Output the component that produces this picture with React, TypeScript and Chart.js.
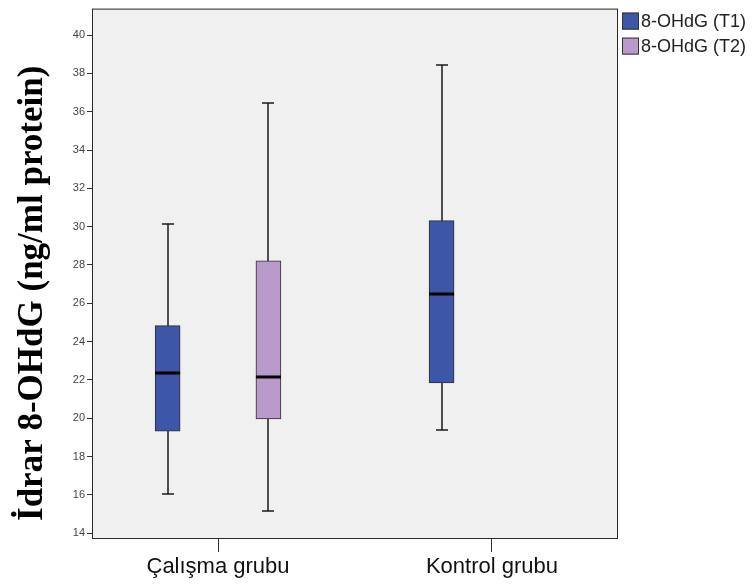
import { useEffect, useRef } from 'react';
import { Chart, registerables } from 'chart.js';

Chart.register(...registerables);

// Groups on the horizontal axis and the two measurement series
const groups = ['Çalışma grubu', 'Kontrol grubu'];
const seriesNames = ['8-OHdG (T1)', '8-OHdG (T2)'];
const seriesColors = ['#3d56a8', '#b99acb'];

// Five-number summaries per group (null = no data for that group)
const t1Min = [16.04, 19.38];
const t1Q1 = [19.33, 21.85];
const t1Median = [22.34, 26.5];
const t1Q3 = [24.83, 30.31];
const t1Max = [30.14, 38.44];

const t2Min = [15.15, null];
const t2Q1 = [19.97, null];
const t2Median = [22.17, null];
const t2Q3 = [28.22, null];
const t2Max = [36.46, null];

const yTicks = [14, 16, 18, 20, 22, 24, 26, 28, 30, 32, 34, 36, 38, 40];
const yMin = 13.75;
const yMax = 41.38;

const yTitle = 'İdrar 8-OHdG (ng/ml protein)';

// Layout / style constants
const seriesOffset = [-0.184, 0.184];
const boxWidthPx = 25;
const capWidthPx = 12;
const plotBg = '#f0f0f0';
const frameColor = '#2b2b2b';

type Summary = {
  name: string;
  color: string;
  min: (number | null)[];
  q1: (number | null)[];
  med: (number | null)[];
  q3: (number | null)[];
  max: (number | null)[];
};

const series: Summary[] = [
  { name: seriesNames[0], color: seriesColors[0], min: t1Min, q1: t1Q1, med: t1Median, q3: t1Q3, max: t1Max },
  { name: seriesNames[1], color: seriesColors[1], min: t2Min, q1: t2Q1, med: t2Median, q3: t2Q3, max: t2Max },
];

const boxPlotPlugin = {
  id: 'boxPlotParts',
  beforeDraw(chart: any) {
    const { ctx, chartArea: a } = chart;
    ctx.save();
    ctx.fillStyle = plotBg;
    ctx.fillRect(a.left, a.top, a.right - a.left, a.bottom - a.top);
    ctx.restore();
  },
  beforeDatasetsDraw(chart: any) {
    const { ctx, scales } = chart;
    const xs = scales.x;
    const ys = scales.y;
    ctx.save();
    ctx.strokeStyle = '#1a1a1a';
    ctx.lineWidth = 1.5;
    series.forEach((s, si) => {
      groups.forEach((_, gi) => {
        const lo = s.min[gi];
        const hi = s.max[gi];
        if (lo == null || hi == null) return;
        const x = Math.round(xs.getPixelForValue(gi + 1 + seriesOffset[si]));
        const yLo = Math.round(ys.getPixelForValue(lo));
        const yHi = Math.round(ys.getPixelForValue(hi));
        ctx.beginPath();
        ctx.moveTo(x, yHi);
        ctx.lineTo(x, yLo);
        ctx.moveTo(x - capWidthPx / 2, yHi);
        ctx.lineTo(x + capWidthPx / 2, yHi);
        ctx.moveTo(x - capWidthPx / 2, yLo);
        ctx.lineTo(x + capWidthPx / 2, yLo);
        ctx.stroke();
      });
    });
    ctx.restore();
  },
  afterDatasetsDraw(chart: any) {
    const { ctx, scales, chartArea: a } = chart;
    const xs = scales.x;
    const ys = scales.y;
    ctx.save();
    ctx.strokeStyle = '#000';
    ctx.lineWidth = 3;
    series.forEach((s, si) => {
      groups.forEach((_, gi) => {
        const m = s.med[gi];
        if (m == null) return;
        const x = xs.getPixelForValue(gi + 1 + seriesOffset[si]);
        const y = Math.round(ys.getPixelForValue(m));
        ctx.beginPath();
        ctx.moveTo(x - boxWidthPx / 2, y);
        ctx.lineTo(x + boxWidthPx / 2, y);
        ctx.stroke();
      });
    });
    // plot frame
    ctx.strokeStyle = frameColor;
    ctx.lineWidth = 1;
    ctx.strokeRect(a.left + 0.5, a.top + 0.5, a.right - a.left - 1, a.bottom - a.top);
    ctx.restore();
  },
  afterDraw(chart: any) {
    const { ctx, chartArea: a } = chart;
    ctx.save();
    // legend
    ctx.font = '18px "Liberation Sans", Arial, sans-serif';
    ctx.textBaseline = 'middle';
    ctx.textAlign = 'left';
    series.forEach((s, i) => {
      const bx = a.right + 4;
      const by = a.top + 4 + i * 25;
      ctx.fillStyle = s.color;
      ctx.fillRect(bx, by, 17, 17);
      ctx.strokeStyle = '#333';
      ctx.lineWidth = 1;
      ctx.strokeRect(bx + 0.5, by + 0.5, 16, 16);
      ctx.fillStyle = '#222';
      ctx.fillText(s.name, bx + 19, by + 9);
    });
    // vertical axis title
    ctx.translate(33, (a.top + a.bottom) / 2 + 20);
    ctx.rotate(-Math.PI / 2);
    ctx.font = 'bold 35px "Liberation Serif", "Times New Roman", serif';
    ctx.fillStyle = '#000';
    ctx.textAlign = 'center';
    ctx.textBaseline = 'middle';
    ctx.fillText(yTitle, 0, 0);
    ctx.restore();
  },
};

export default function App() {
  const canvasRef = useRef<HTMLCanvasElement | null>(null);

  useEffect(() => {
    if (!canvasRef.current) return;
    const datasets = series.map((s, si) => ({
      type: 'bar' as const,
      label: s.name,
      data: groups
        .map((_, gi) =>
          s.q1[gi] == null || s.q3[gi] == null
            ? null
            : { x: gi + 1 + seriesOffset[si], y: [s.q1[gi] as number, s.q3[gi] as number] }
        )
        .filter((d) => d !== null),
      backgroundColor: s.color,
      borderColor: '#2e2e2e',
      borderWidth: 1,
      borderSkipped: false,
      barThickness: boxWidthPx,
      grouped: false,
    }));

    const chart = new Chart(canvasRef.current, {
      type: 'bar',
      data: { datasets: datasets as any },
      options: {
        animation: false,
        responsive: false,
        layout: { padding: { left: 0, top: 8, right: 134, bottom: 0 } },
        plugins: {
          legend: { display: false },
          tooltip: { enabled: false },
        },
        scales: {
          x: {
            type: 'linear',
            min: 0.54,
            max: 2.46,
            offset: false,
            afterBuildTicks: (scale: any) => {
              scale.ticks = groups.map((_, i) => ({ value: i + 1 }));
            },
            afterFit: (scale: any) => {
              scale.height = 46;
            },
            ticks: {
              callback: (v: any) => groups[Math.round(Number(v)) - 1] ?? '',
              font: { family: '"Liberation Sans", Arial, sans-serif', size: 22 },
              color: '#111',
              padding: 2,
              maxRotation: 0,
              autoSkip: false,
            },
            grid: { offset: false, drawOnChartArea: false, drawTicks: true, tickLength: 14, color: '#333' },
            border: { display: false },
          },
          y: {
            type: 'linear',
            min: yMin,
            max: yMax,
            afterBuildTicks: (scale: any) => {
              scale.ticks = yTicks.map((v) => ({ value: v }));
            },
            afterFit: (scale: any) => {
              scale.width = 92;
            },
            ticks: {
              font: { family: '"Liberation Sans", Arial, sans-serif', size: 11 },
              color: '#444',
              padding: 2,
            },
            grid: { drawOnChartArea: false, drawTicks: true, tickLength: 5, color: '#333' },
            border: { display: false },
          },
        },
      },
      plugins: [boxPlotPlugin],
    });
    return () => chart.destroy();
  }, []);

  return (
    <div style={{ position: 'absolute', left: 0, top: 0, width: 752, height: 584, background: '#fff' }}>
      <canvas ref={canvasRef} width={752} height={584} />
    </div>
  );
}
